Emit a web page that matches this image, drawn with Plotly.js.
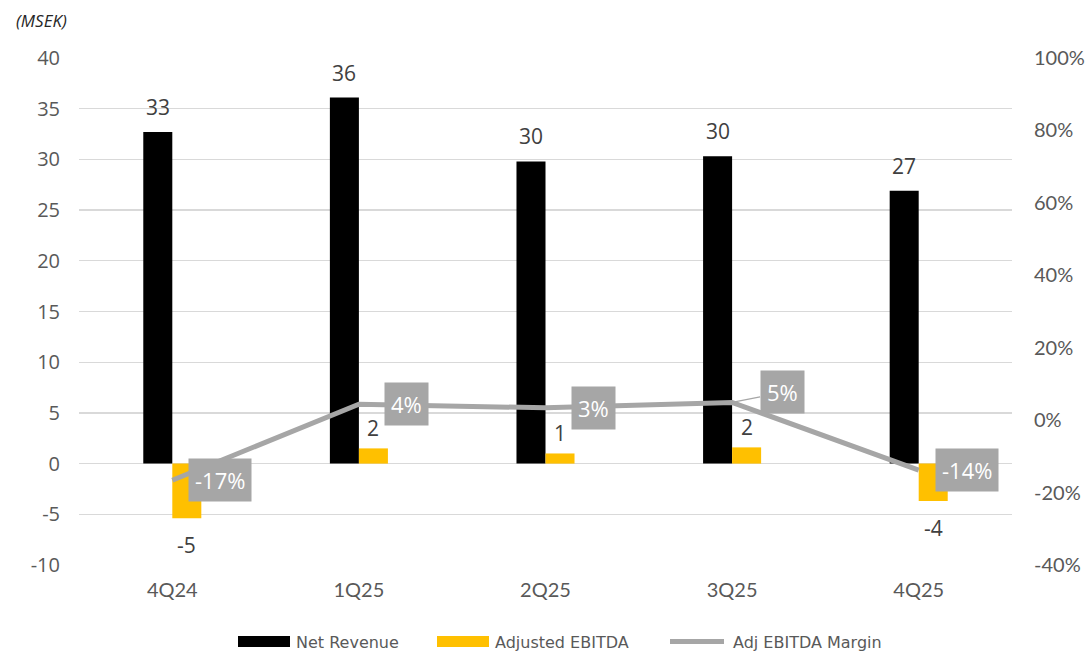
<!DOCTYPE html>
<html>
<head>
<meta charset="utf-8">
<script src="https://cdn.plot.ly/plotly-3.0.1.min.js"></script>
<style>html,body{margin:0;padding:0;background:#fff;}#chart{width:1089px;height:652px;}</style>
</head>
<body>
<div id="chart"></div>
<script>
const categories = ["4Q24", "1Q25", "2Q25", "3Q25", "4Q25"];
const netRevenue = [32.7, 36.1, 29.8, 30.3, 26.9];
const adjEbitda = [-5.4, 1.5, 1.0, 1.6, -3.7];
const ebitdaMargin = [-16.6, 4.4, 3.4, 4.9, -13.8]; // percent
const leftTicks = [-10, -5, 0, 5, 10, 15, 20, 25, 30, 35, 40];
const rightTicks = [-0.4, -0.2, 0, 0.2, 0.4, 0.6, 0.8, 1.0];

const black = "#000000", yellow = "#FFC000", gray = "#A6A6A6";
const tickColor = "#595959", labelColor = "#404040";

const traces = [
  {type: "bar", name: "Net Revenue", x: categories, y: netRevenue, marker: {color: black}, hoverinfo: "skip"},
  {type: "bar", name: "Adjusted EBITDA", x: categories, y: adjEbitda, marker: {color: yellow}, hoverinfo: "skip"},
  {type: "scatter", mode: "lines", name: "Adj EBITDA Margin", x: categories, y: ebitdaMargin.map(v => v / 100),
   yaxis: "y2", line: {color: gray, width: 5}, hoverinfo: "skip"}
];

const annotations = [];
categories.forEach((c, i) => {
  annotations.push({x: c, y: netRevenue[i], xref: "x", yref: "y", text: String(Math.round(netRevenue[i])),
    showarrow: false, xshift: -14.5, yshift: 25, yanchor: "middle",
    font: {family: "Open Sans", size: 21, color: labelColor}});
  const v = adjEbitda[i];
  annotations.push({x: c, y: v, xref: "x", yref: "y", text: String(Math.round(v)),
    showarrow: false, xshift: 14.5, yshift: v >= 0 ? 20 : -27, yanchor: "middle",
    font: {family: "Open Sans", size: 21, color: labelColor}});
  const m = ebitdaMargin[i];
  const lab = {x: c, y: m / 100, xref: "x", yref: "y2", text: Math.round(m) + "%",
    bgcolor: gray, borderpad: 6, font: {family: "Open Sans", size: 22, color: "#ffffff"}};
  if (i === 3) {
    Object.assign(lab, {showarrow: true, arrowhead: 0, arrowwidth: 1.2, arrowcolor: gray, ax: 50, ay: -10});
  } else {
    Object.assign(lab, {showarrow: false, xshift: 48});
  }
  annotations.push(lab);
});

// axis unit note
annotations.push({xref: "paper", yref: "paper", x: (14 - 79) / 933, y: (565 - 20) / 507, xanchor: "left", yanchor: "middle",
  text: "<i>(MSEK)</i>", showarrow: false, font: {family: "Open Sans", size: 17, color: "#262626"}});

// custom legend
const legendItems = [
  {name: traces[0].name, kind: "rect", color: black, x0: 238, x1: 290, tx: 294},
  {name: traces[1].name, kind: "rect", color: yellow, x0: 437, x1: 489, tx: 493},
  {name: traces[2].name, kind: "line", color: gray, x0: 670, x1: 724, tx: 731}
];
const px = v => (v - 79) / 933;
const py = v => (565 - v) / 507;
const shapes = [];
legendItems.forEach(it => {
  if (it.kind === "rect") {
    shapes.push({type: "rect", xref: "paper", yref: "paper", x0: px(it.x0), x1: px(it.x1), y0: py(647), y1: py(636),
      fillcolor: it.color, line: {width: 0}});
  } else {
    shapes.push({type: "line", xref: "paper", yref: "paper", x0: px(it.x0), x1: px(it.x1), y0: py(641.5), y1: py(641.5),
      line: {color: it.color, width: 5}});
  }
  annotations.push({xref: "paper", yref: "paper", x: px(it.tx), y: py(642), xanchor: "left", yanchor: "middle",
    text: it.name, showarrow: false, font: {family: "DejaVu Sans", size: 16, color: tickColor}});
});

const layout = {
  width: 1089, height: 652,
  margin: {l: 79, r: 77, t: 58, b: 87, pad: 0},
  paper_bgcolor: "#ffffff", plot_bgcolor: "#ffffff",
  showlegend: false,
  barmode: "group", bargap: 0.689, bargroupgap: 0,
  xaxis: {type: "category", tickfont: {family: "Lato", size: 20, color: tickColor}, showgrid: false,
    zeroline: false, showline: false, ticks: "", ticklabelstandoff: 11},
  yaxis: {range: [-10, 40], tickvals: leftTicks, ticktext: leftTicks.map(String), showgrid: true, gridcolor: "#D9D9D9",
    gridwidth: 1.3, zeroline: true, zerolinecolor: "#D9D9D9", zerolinewidth: 1.3, showline: false, ticks: "",
    tickfont: {family: "Open Sans", size: 20, color: tickColor}, ticklabelstandoff: 18},
  yaxis2: {range: [-0.4, 1.0], overlaying: "y", side: "right", tickvals: rightTicks,
    ticktext: rightTicks.map(v => Math.round(v * 100) + "%"), showgrid: false, zeroline: false, showline: false,
    ticks: "", tickfont: {family: "Lato", size: 20, color: tickColor}, ticklabelstandoff: 21},
  annotations: annotations,
  shapes: shapes,
  font: {family: "Open Sans"}
};

Plotly.newPlot("chart", traces, layout, {displayModeBar: false, staticPlot: true});
</script>
</body>
</html>
